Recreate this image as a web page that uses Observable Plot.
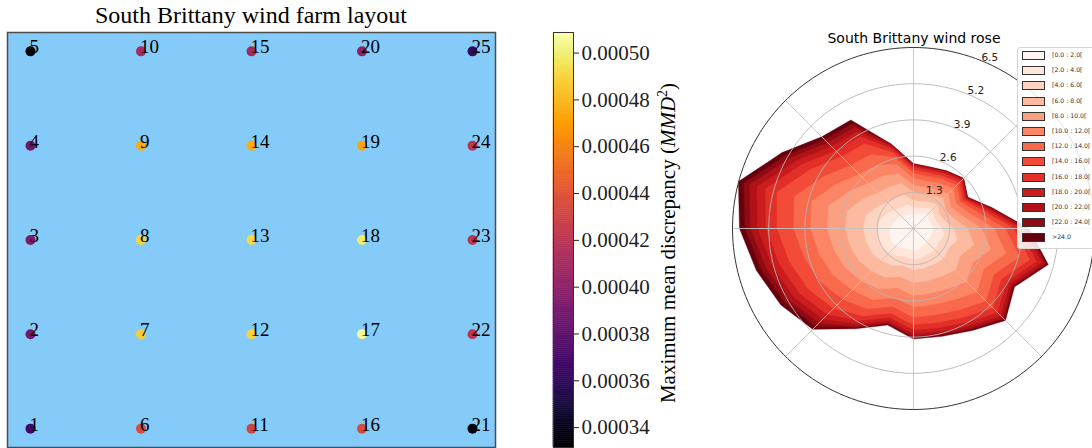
<!DOCTYPE html>
<html>
<head>
<meta charset="utf-8">
<script src="https://cdn.jsdelivr.net/npm/d3@7"></script>
<script src="https://cdn.jsdelivr.net/npm/@observablehq/plot@0.6"></script>
<style>
html, body { margin: 0; padding: 0; background: #fff; }
#root { position: relative; width: 1092px; height: 448px; overflow: hidden; background: #fff; }
#root > * { position: absolute; }
.title-serif { font-family: "Liberation Serif", "Times New Roman", serif; font-size: 24px; line-height: 24px; text-align: center; color: #000; white-space: nowrap; }
.title-sans { font-family: "DejaVu Sans", sans-serif; font-size: 14px; line-height: 14px; text-align: center; color: #000; white-space: nowrap; }
.cblabel { font-family: "Liberation Serif", "Times New Roman", serif; font-size: 21px; white-space: nowrap; transform: translate(-50%, -50%) rotate(-90deg); color: #000; }
.legend { background: rgba(255,255,255,0.85); border: 1px solid #d6d6d6; border-radius: 3px; }
.legend .item { position: absolute; left: 4px; height: 10px; }
.legend .sw { position: absolute; left: 0; top: 0; width: 21px; height: 7px; border: 1px solid #333; }
.legend .lb { position: absolute; left: 30px; top: -1px; font-family: "DejaVu Sans", sans-serif; font-size: 6.2px; color: #333; white-space: nowrap; line-height: 10px; }
</style>
</head>
<body>
<div id="root"></div>
<script>
// ---------------- Wind farm layout data ----------------
const turbineIds = [1,2,3,4,5, 6,7,8,9,10, 11,12,13,14,15, 16,17,18,19,20, 21,22,23,24,25];
const turbineCol = [0,0,0,0,0, 1,1,1,1,1, 2,2,2,2,2, 3,3,3,3,3, 4,4,4,4,4];
const turbineRow = [0,1,2,3,4, 0,1,2,3,4, 0,1,2,3,4, 0,1,2,3,4, 0,1,2,3,4];
const turbineMMD = [
  0.000367, 0.000388, 0.000390, 0.000386, 0.000334,
  0.000434, 0.000487, 0.000490, 0.000476, 0.000410,
  0.000430, 0.000490, 0.000491, 0.000476, 0.000407,
  0.000434, 0.000506, 0.000499, 0.000473, 0.000399,
  0.000336, 0.000420, 0.000420, 0.000420, 0.000362
];
const mmdTicks = [0.00034, 0.00036, 0.00038, 0.00040, 0.00042, 0.00044, 0.00046, 0.00048, 0.00050];
const mmdDomain = [0.0003315, 0.0005088];

// ---------------- Wind rose data (frequency %, 24 sectors, N clockwise) ----------------
const directions = [0,15,30,45,60,75,90,105,120,135,150,165,180,195,210,225,240,255,270,285,300,315,330,345];
const speedLabels = ["[0.0 : 2.0[", "[2.0 : 4.0[", "[4.0 : 6.0[", "[6.0 : 8.0[", "[8.0 : 10.0[", "[10.0 : 12.0[", "[12.0 : 14.0[", "[14.0 : 16.0[", "[16.0 : 18.0[", "[18.0 : 20.0[", "[20.0 : 22.0[", "[22.0 : 24.0[", ">24.0"];
const f0to2   = [.50,.52,.62,.72,.62,.65,.70,.68,.66,.68,.70,.76,.80,.76,.80,.88,.92,.88,.84,.75,.68,.60,.56,.52];
const f2to4   = [.25,.24,.24,.25,.22,.23,.35,.44,.36,.40,.36,.33,.32,.29,.34,.36,.39,.42,.46,.49,.41,.35,.33,.36];
const f4to6   = [.25,.24,.24,.25,.22,.26,.40,.50,.41,.46,.41,.38,.37,.33,.39,.39,.42,.46,.50,.53,.44,.37,.36,.36];
const f6to8   = [.30,.29,.29,.30,.27,.33,.50,.63,.51,.58,.51,.47,.46,.41,.49,.51,.55,.60,.65,.69,.57,.49,.47,.43];
const f8to10  = [.25,.24,.24,.25,.22,.33,.50,.63,.51,.58,.51,.47,.46,.41,.49,.51,.55,.60,.65,.69,.57,.49,.47,.36];
const f10to12 = [.25,.24,.24,.25,.22,.29,.45,.56,.46,.52,.46,.42,.41,.37,.44,.47,.51,.55,.60,.64,.53,.45,.44,.36];
const f12to14 = [.18,.17,.17,.18,.16,.26,.40,.50,.41,.46,.41,.38,.37,.33,.39,.47,.51,.55,.60,.64,.53,.45,.44,.26];
const f14to16 = [.12,.12,.12,.12,.11,.20,.30,.38,.31,.35,.31,.28,.27,.25,.29,.47,.51,.55,.60,.64,.53,.45,.44,.17];
const f16to18 = [.10,.10,.10,.10,.09,.13,.20,.25,.21,.23,.21,.19,.18,.16,.19,.31,.34,.37,.40,.43,.35,.30,.29,.14];
const f18to20 = [.06,.06,.06,.06,.05,.10,.15,.19,.15,.17,.15,.14,.14,.12,.14,.23,.25,.27,.30,.32,.26,.22,.22,.09];
const f20to22 = [.04,.04,.04,.04,.04,.07,.10,.13,.10,.12,.10,.09,.09,.08,.10,.20,.21,.23,.25,.27,.22,.19,.18,.06];
const f22to24 = [.02,.02,.02,.02,.02,.03,.05,.06,.05,.06,.05,.05,.05,.04,.05,.16,.17,.18,.20,.21,.18,.15,.15,.03];
const fAbove24= [.01,.01,.01,.01,.01,.03,.05,.06,.05,.06,.05,.05,.05,.04,.05,.16,.17,.18,.20,.21,.18,.15,.15,.01];
const ringTicks = [1.3, 2.6, 3.9, 5.2, 6.5];

const speedBins = [f0to2, f2to4, f4to6, f6to8, f8to10, f10to12, f12to14, f14to16, f16to18, f18to20, f20to22, f22to24, fAbove24];
const binColors = speedBins.map((_, k) => d3.interpolateReds(k / (speedBins.length - 1)));

const root = document.getElementById("root");
const serif = "'Liberation Serif', 'Times New Roman', serif";

// ---------------- Left: layout ----------------
const turbines = turbineIds.map((id, i) => ({id, col: turbineCol[i], row: turbineRow[i], mmd: turbineMMD[i]}));
const colorOpts = {type: "linear", scheme: "inferno", domain: mmdDomain};

const layout = Plot.plot({
  width: 540, height: 448,
  marginLeft: 7, marginRight: 45, marginTop: 32, marginBottom: 1,
  x: {domain: [-0.208, 4.208], axis: null},
  y: {domain: [-0.2, 4.2], axis: null},
  color: colorOpts,
  style: {fontFamily: serif, fontSize: "19px", background: "transparent", overflow: "visible"},
  marks: [
    Plot.frame({fill: "#85cbf9", stroke: "#4d4d4d", strokeWidth: 1.5}),
    Plot.dot(turbines, {x: "col", y: "row", r: 5, fill: "mmd"}),
    Plot.text(turbines, {x: "col", y: "row", text: d => String(d.id), textAnchor: "start", lineAnchor: "bottom", dy: 2, dx: -1, fill: "#000", fontSize: 19})
  ]
});
layout.style.left = "0px"; layout.style.top = "0px";
root.appendChild(layout);

const t1 = document.createElement("div");
t1.className = "title-serif";
t1.textContent = "South Brittany wind farm layout";
t1.style.left = "0px"; t1.style.width = "502px"; t1.style.top = "3px";
root.appendChild(t1);

// ---------------- Colorbar ----------------
const nSteps = 200;
const gradient = d3.range(nSteps).map(i => {
  const v0 = mmdDomain[0] + (mmdDomain[1] - mmdDomain[0]) * i / nSteps;
  const v1 = mmdDomain[0] + (mmdDomain[1] - mmdDomain[0]) * (i + 1) / nSteps;
  return {v0, v1, mid: (v0 + v1) / 2};
});
const cbar = Plot.plot({
  width: 130, height: 448,
  marginLeft: 13, marginRight: 97, marginTop: 32, marginBottom: 1,
  x: {domain: [0, 1], axis: null},
  y: {domain: mmdDomain, ticks: mmdTicks, tickFormat: d => d.toFixed(5), axis: "right", tickSize: 5, tickPadding: 3, label: null},
  color: colorOpts,
  style: {fontFamily: serif, fontSize: "21px", background: "transparent", overflow: "visible", color: "#222"},
  marks: [
    Plot.rect(gradient, {x1: () => 0, x2: () => 1, y1: "v0", y2: "v1", fill: "mid", stroke: "mid", strokeWidth: 0.6}),
    Plot.frame({stroke: "#333", strokeWidth: 1})
  ]
});
cbar.style.left = "540px"; cbar.style.top = "0px";
root.appendChild(cbar);

const cbl = document.createElement("div");
cbl.className = "cblabel";
cbl.innerHTML = "Maximum mean discrepancy (<i>MMD</i><sup style='font-size:14px;vertical-align:8px;line-height:0'>2</sup>)";
cbl.style.left = "668px"; cbl.style.top = "243px";
root.appendChild(cbl);

// ---------------- Right: wind rose ----------------
const R = 6.5;
const rad = d => d * Math.PI / 180;
const layers = speedBins.map((_, k) => directions.map((deg, i) => {
  const cum = d3.sum(speedBins.slice(0, k + 1), b => b[i]);
  return {x: cum * Math.sin(rad(deg)), y: cum * Math.cos(rad(deg))};
}));
const circleAngles = d3.range(0, 360, 2);
const ringPts = ringTicks.flatMap(r => circleAngles.map(a => ({r, x: r * Math.sin(rad(a)), y: r * Math.cos(rad(a))})));
const spokeAngles = [0, 45, 90, 135, 180, 225, 270, 315];

const roseMarks = [];
for (let k = layers.length - 1; k >= 0; --k) {
  roseMarks.push(Plot.line(layers[k], {x: "x", y: "y", fill: binColors[k], stroke: binColors[k], strokeWidth: 0.4, curve: "linear-closed"}));
}
roseMarks.push(
  Plot.link(spokeAngles, {x1: () => 0, y1: () => 0, x2: a => R * Math.sin(rad(a)), y2: a => R * Math.cos(rad(a)), stroke: "#c4c4c4", strokeWidth: 0.9}),
  Plot.line(ringPts.filter(d => d.r < R), {x: "x", y: "y", z: "r", stroke: "#b5b5b5", strokeWidth: 0.9, curve: "linear-closed"}),
  Plot.line(ringPts.filter(d => d.r === R), {x: "x", y: "y", z: "r", stroke: "#333", strokeWidth: 1, curve: "linear-closed"}),
  Plot.text(ringTicks, {x: r => r * Math.sin(rad(22.5)), y: r => r * Math.cos(rad(22.5)), text: r => r.toFixed(1), dx: 7, dy: -4, fill: "#222", fontSize: 10.5})
);

const rose = Plot.plot({
  width: 372, height: 448,
  x: {domain: [-R, R], range: [12, 374], axis: null},
  y: {domain: [-R, R], range: [409, 47], axis: null},
  style: {fontFamily: "'DejaVu Sans', sans-serif", fontSize: "11px", background: "transparent", overflow: "visible"},
  marks: roseMarks
});
rose.style.left = "720px"; rose.style.top = "0px";
root.appendChild(rose);

const t2 = document.createElement("div");
t2.className = "title-sans";
t2.textContent = "South Brittany wind rose";
t2.style.left = "814px"; t2.style.width = "200px"; t2.style.top = "31px";
root.appendChild(t2);

// ---------------- Legend ----------------
const legend = document.createElement("div");
legend.className = "legend";
legend.style.left = "1017px"; legend.style.top = "47px"; legend.style.width = "100px"; legend.style.height = "200px";
speedLabels.forEach((lab, k) => {
  const item = document.createElement("div");
  item.className = "item";
  item.style.top = (3 + k * 15.2) + "px";
  const sw = document.createElement("div");
  sw.className = "sw"; sw.style.background = binColors[k];
  const lb = document.createElement("div");
  lb.className = "lb"; lb.textContent = lab;
  item.appendChild(sw); item.appendChild(lb);
  legend.appendChild(item);
});
root.appendChild(legend);
</script>
</body>
</html>
